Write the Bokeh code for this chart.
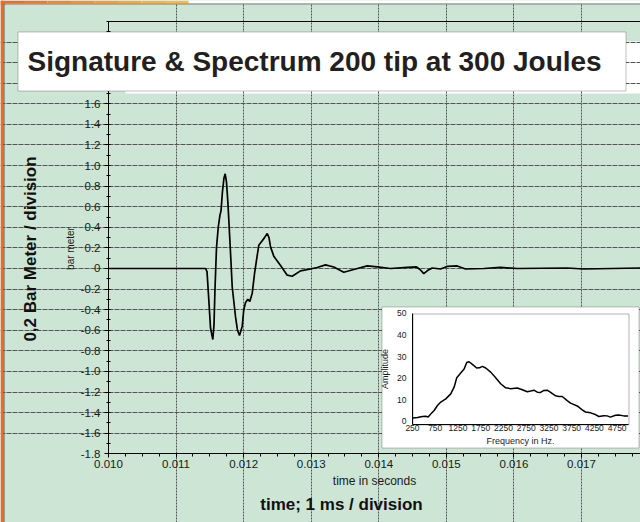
import math
from bokeh.plotting import figure
from bokeh.models import (Range1d, FixedTicker, CustomJSTickFormatter, LinearAxis,
                          Label, BoxAnnotation)
from bokeh.embed import file_html
from bokeh.resources import INLINE

# ---------------- data ----------------
sig_time = [0.010000, 0.011436, 0.011458, 0.011484, 0.011510, 0.011544, 0.011561,
            0.011576, 0.011598, 0.011624, 0.011650, 0.011665, 0.011687, 0.011709,
            0.011727, 0.011746, 0.011766, 0.011780, 0.011806, 0.011831, 0.011880,
            0.011909, 0.011939, 0.011979, 0.012002, 0.012028, 0.012062, 0.012091,
            0.012127, 0.012161, 0.012190, 0.012224, 0.012275, 0.012309, 0.012349,
            0.012375, 0.012398, 0.012446, 0.012546, 0.012645, 0.012719, 0.012841,
            0.012989, 0.013089, 0.013211, 0.013334, 0.013482, 0.013630, 0.013829,
            0.013977, 0.014173, 0.014421, 0.014558, 0.014610, 0.014666, 0.014721,
            0.014791, 0.014913, 0.015013, 0.015161, 0.015283, 0.015554, 0.015801,
            0.016048, 0.016788, 0.017034, 0.017873, 0.018000]
sig_bar = [0.0, 0.0, -0.03, -0.30, -0.58, -0.69, -0.55,
           -0.20, 0.20, 0.40, 0.52, 0.56, 0.75, 0.88,
           0.92, 0.84, 0.65, 0.48, 0.15, -0.18, -0.47,
           -0.60, -0.65, -0.56, -0.40, -0.33, -0.30, -0.32,
           -0.24, -0.05, 0.08, 0.225, 0.27, 0.30, 0.34,
           0.30, 0.21, 0.12, 0.03, -0.065, -0.075, -0.023,
           -0.005, 0.01, 0.035, 0.015, -0.036, -0.01, 0.025,
           0.015, 0.0, 0.01, 0.015, -0.01, -0.05, -0.02,
           0.005, -0.005, 0.02, 0.025, -0.005, 0.0, 0.01,
           0.0, 0.005, -0.005, 0.005, 0.0]

spec_freq = [250, 360, 470, 543, 594, 652, 726, 799, 872, 982, 1091, 1165, 1223, 1311,
             1384, 1443, 1494, 1567, 1662, 1721, 1787, 1860, 1970, 2079, 2189, 2299,
             2408, 2555, 2665, 2774, 2848, 2921, 2994, 3067, 3140, 3213, 3287, 3396,
             3469, 3543, 3652, 3726, 3872, 3982, 4055, 4165, 4274, 4347, 4457, 4530,
             4604, 4713, 4787, 4896, 4991]
spec_amp = [1.55, 1.7, 2.2, 2.3, 2.0, 3.4, 5.0, 7.3, 8.9, 10.4, 12.7, 15.8, 20.2, 22.4,
            24.2, 27.3, 27.6, 26.4, 24.7, 24.8, 25.5, 24.7, 22.8, 20.2, 17.4, 15.5,
            15.1, 15.4, 14.6, 13.7, 14.0, 14.4, 13.5, 13.4, 14.3, 14.4, 13.4, 11.8,
            11.5, 11.5, 9.6, 8.4, 7.1, 5.3, 4.3, 3.9, 3.1, 2.2, 2.6, 2.5,
            1.9, 2.8, 2.9, 2.5, 2.5]

x_ticks = [0.010, 0.011, 0.012, 0.013, 0.014, 0.015, 0.016, 0.017]
y_ticks = [-1.8, -1.6, -1.4, -1.2, -1.0, -0.8, -0.6, -0.4, -0.2, 0.0,
           0.2, 0.4, 0.6, 0.8, 1.0, 1.2, 1.4, 1.6]
y_grid = y_ticks + [1.8, 2.0, 2.2]
freq_ticks = [250, 750, 1250, 1750, 2250, 2750, 3250, 3750, 4250, 4750]
amp_ticks = [0, 10, 20, 30, 40, 50]

title_text = "Signature & Spectrum 200 tip at 300 Joules"
left_title = "0,2 Bar Meter / division"
bottom_title = "time; 1 ms / division"

# ---------------- style / layout ----------------
FONT = "Liberation Sans"
GREEN = "#cce5d4"
GRID = "#555555"
TXT = "#1a1a1a"

# main plot window (data limits of the drawn chart area)
T0, T1 = 0.010, 0.017873
V0, V1 = -1.8, 2.4
# inset limits
F0, F1 = 250, 5000
A0, A1 = -1.5, 50

x_minor = [round(0.010 + i * 0.00025, 5) for i in range(33)]
y_minor = [round(-1.8 + i * 0.1, 2) for i in range(43)]

p = figure(width=640, height=522, output_backend="svg", toolbar_location=None,
           x_range=Range1d(0.0084017, 0.0178732), y_range=Range1d(-2.4675, 2.6035),
           min_border=0, background_fill_color=GREEN, border_fill_color=GREEN,
           outline_line_color=None)
p.extra_x_ranges = {"fx": Range1d(-8810, 5263.9)}
p.extra_y_ranges = {"fy": Range1d(-46.97, 195.22)}

# white panel behind title (beneath grid)
shadow = BoxAnnotation(left=125, right=640, top=41, bottom=93,
                       left_units="canvas", right_units="canvas",
                       top_units="canvas", bottom_units="canvas",
                       fill_color="white", fill_alpha=1, line_color=None,
                       level="underlay")

xa = p.xaxis[0]
xa.fixed_location = V0
xa.bounds = (T0, T1)
xa.ticker = FixedTicker(ticks=x_ticks, minor_ticks=x_minor)
xa.formatter = CustomJSTickFormatter(code="return tick.toFixed(3);")
xa.major_tick_out = 4
xa.major_tick_in = 0
xa.minor_tick_out = 3
xa.minor_tick_in = 0
xa.major_label_standoff = 2
xa.major_label_text_font = FONT
xa.major_label_text_font_size = "11.5px"
xa.major_label_text_color = TXT
xa.axis_label = "time in seconds"
xa.axis_label_text_font = FONT
xa.axis_label_text_font_size = "12px"
xa.axis_label_text_font_style = "normal"
xa.axis_label_text_color = TXT
xa.axis_label_standoff = 3
xa.axis_line_color = "black"

ya = p.yaxis[0]
ya.fixed_location = T0
ya.bounds = (V0, V1)
ya.ticker = FixedTicker(ticks=y_ticks, minor_ticks=y_minor)
ya.formatter = CustomJSTickFormatter(
    code="return Math.abs(tick) < 1e-9 ? '0' : tick.toFixed(1);")
ya.major_tick_out = 4
ya.major_tick_in = 0
ya.minor_tick_out = 2
ya.minor_tick_in = 2
ya.major_label_standoff = 4
ya.major_label_text_font = FONT
ya.major_label_text_font_size = "11.5px"
ya.major_label_text_color = TXT
ya.axis_line_color = "black"

p.xgrid.ticker = FixedTicker(ticks=x_ticks[1:])
p.xgrid.bounds = (V0, V1)
p.ygrid.ticker = FixedTicker(ticks=y_grid[1:])
p.ygrid.bounds = (T0, T1)
p.xgrid.grid_line_color = GRID
p.xgrid.grid_line_dash = "2 1"
p.ygrid.grid_line_color = GRID
p.ygrid.grid_line_dash = "5 1"

p.center.insert(0, shadow)

top_axis = LinearAxis(ticker=FixedTicker(ticks=[]), axis_line_color="black",
                      fixed_location=V1, bounds=(T0, T1),
                      major_tick_out=0, major_tick_in=0, minor_tick_out=0,
                      minor_tick_in=0)
p.add_layout(top_axis, "above")

p.line(sig_time, sig_bar, line_color="black", line_width=1.7)


def cbox(l, r, t, b, fill, line=None, level="annotation", alpha=1):
    return BoxAnnotation(left=l, right=r, top=t, bottom=b,
                         left_units="canvas", right_units="canvas",
                         top_units="canvas", bottom_units="canvas",
                         fill_color=fill, fill_alpha=alpha, line_color=line,
                         line_width=1, level=level)


# ---------------- inset ----------------
p.add_layout(cbox(381.5, 638.5, 306.5, 447.5, "white", "#333333", level="underlay"))
p.add_layout(cbox(412.5, 628.5, 313.5, 424.5, "white", "black", level="underlay"))

ix = LinearAxis(x_range_name="fx", y_range_name="fy", fixed_location=A0,
                bounds=(F0, F1), ticker=FixedTicker(ticks=freq_ticks))
ix.major_tick_out = 0
ix.major_tick_in = 0
ix.minor_tick_out = 0
ix.minor_tick_in = 0
ix.major_label_standoff = 1
ix.major_label_text_font = FONT
ix.major_label_text_font_size = "8.5px"
ix.major_label_text_color = TXT
ix.axis_label = "Frequency in Hz."
ix.axis_label_text_font = FONT
ix.axis_label_text_font_size = "9px"
ix.axis_label_text_font_style = "normal"
ix.axis_label_text_color = TXT
ix.axis_label_standoff = 1
ix.axis_line_color = "black"
p.add_layout(ix, "below")

iy = LinearAxis(x_range_name="fx", y_range_name="fy", fixed_location=F0,
                bounds=(A0, A1), ticker=FixedTicker(ticks=amp_ticks))
iy.major_tick_out = 0
iy.major_tick_in = 0
iy.minor_tick_out = 0
iy.minor_tick_in = 0
iy.major_label_standoff = 6
iy.major_label_text_font = FONT
iy.major_label_text_font_size = "8.5px"
iy.major_label_text_color = TXT
iy.axis_label = "Amplitude"
iy.axis_label_text_font = FONT
iy.axis_label_text_font_size = "9px"
iy.axis_label_text_font_style = "normal"
iy.axis_label_text_color = TXT
iy.axis_label_standoff = 4
iy.axis_line_color = "black"
p.add_layout(iy, "left")

p.line(spec_freq, spec_amp, x_range_name="fx", y_range_name="fy",
       line_color="black", line_width=1.5)

# ---------------- window edges ----------------
p.add_layout(cbox(0, 640, 0, 3, "white"))
grad = ["#f26a1f", "#f37722", "#f58426", "#f6902a", "#f89c2e", "#f9a733", "#fab138", "#fbba3d"]
for i, c in enumerate(grad):
    p.add_layout(cbox(i * 23.5, (i + 1) * 23.5, 0, 3, c))
p.add_layout(cbox(0, 640, 3, 4, "#7a7a7a"))
p.add_layout(cbox(0, 3, 0, 522, "#f26a1f"))
p.add_layout(cbox(3, 4, 3, 522, "#5a5a5a"))

# ---------------- texts ----------------
p.add_layout(cbox(17.5, 625.5, 31.5, 90.5, "white", "#333333"))
p.add_layout(Label(x=27, y=61, x_units="canvas", y_units="canvas", text=title_text,
                   text_font=FONT, text_font_size="28px", text_font_style="bold",
                   text_color="#231f20", text_align="left",
                   text_baseline="alphabetic"))
p.add_layout(Label(x=30, y=248.5, x_units="canvas", y_units="canvas", text=left_title,
                   angle=math.pi / 2, text_font=FONT, text_font_size="17px",
                   text_font_style="bold", text_color="#111111",
                   text_align="center", text_baseline="middle"))
p.add_layout(Label(x=70, y=248, x_units="canvas", y_units="canvas", text="bar meter",
                   angle=math.pi / 2, text_font=FONT, text_font_size="10px",
                   text_color=TXT, text_align="center", text_baseline="middle"))
p.add_layout(Label(x=341, y=504, x_units="canvas", y_units="canvas", text=bottom_title,
                   text_font=FONT, text_font_size="17px", text_font_style="bold",
                   text_color="#111111", text_align="center", text_baseline="middle"))

open("out.html", "w").write(file_html(p, INLINE))
